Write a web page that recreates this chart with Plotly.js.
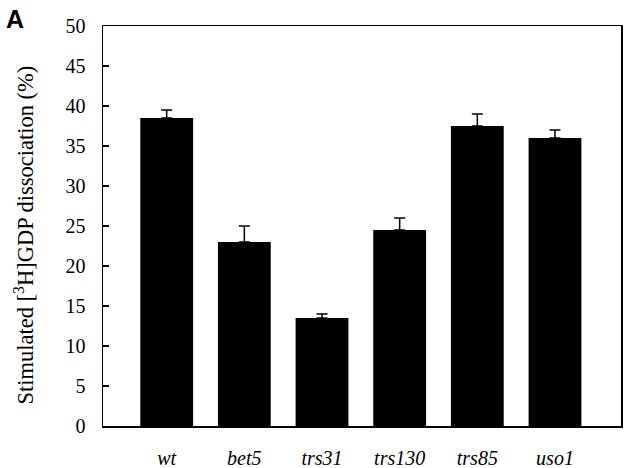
<!DOCTYPE html>
<html>
<head>
<meta charset="utf-8">
<script src="https://cdn.plot.ly/plotly-3.0.1.min.js"></script>
<style>html,body{margin:0;padding:0;background:#fff;}#chart{width:640px;height:468px;}</style>
</head>
<body>
<div id="chart"></div>
<script>
const strains = ['wt', 'bet5', 'trs31', 'trs130', 'trs85', 'uso1'];
const values = [38.5, 23, 13.5, 24.5, 37.5, 36];
const errors = [1, 2, 0.5, 1.5, 1.5, 1];
const yTicks = [0, 5, 10, 15, 20, 25, 30, 35, 40, 45, 50];
const yTitle = 'Stimulated [<sup>3</sup>H]GDP dissociation (%)';
const panelLabel = 'A';

const xs = strains.map((_, i) => i);
const serif = 'Liberation Serif';

const trace = {
  type: 'bar',
  x: xs,
  y: values,
  width: 0.68,
  marker: {color: '#000', line: {width: 0}},
  error_y: {type: 'data', symmetric: false, array: errors, arrayminus: errors.map(() => 0),
            color: '#000', thickness: 1.5, width: 5.5}
};

const layout = {
  width: 640, height: 468,
  margin: {l: 103, r: 19, t: 26, b: 42},
  paper_bgcolor: '#fff', plot_bgcolor: '#fff',
  font: {family: serif, color: '#000'},
  showlegend: false,
  xaxis: {
    range: [-0.82, 5.85],
    tickvals: xs,
    ticktext: strains.map(s => '<i>' + s + '</i>'),
    tickfont: {family: serif, size: 20, color: '#000'},
    showline: true, mirror: true, linecolor: '#000', linewidth: 1.5,
    ticks: '', showgrid: false, zeroline: false,
    ticklabelstandoff: 13
  },
  yaxis: {
    range: [0, 50],
    tickvals: yTicks,
    ticktext: yTicks.map(String),
    tickfont: {family: serif, size: 20, color: '#000'},
    showline: true, mirror: true, linecolor: '#000', linewidth: 1.5,
    ticks: 'inside', ticklen: 6, tickwidth: 1.2, tickcolor: '#000',
    ticklabelstandoff: 12,
    showgrid: false, zeroline: false
  },
  annotations: [{
    text: yTitle, textangle: -90,
    xref: 'paper', yref: 'paper', x: -0.153, y: 0.478,
    xanchor: 'center', yanchor: 'middle', showarrow: false,
    font: {family: serif, size: 22.5, color: '#000'}
  }, {
    text: '<b>' + panelLabel + '</b>', xref: 'paper', yref: 'paper', x: -0.192, y: 1.058,
    xanchor: 'left', yanchor: 'top', showarrow: false,
    font: {family: 'Liberation Sans', size: 25, color: '#000'}
  }]
};

Plotly.newPlot('chart', [trace], layout, {displayModeBar: false, staticPlot: true});
</script>
</body>
</html>
